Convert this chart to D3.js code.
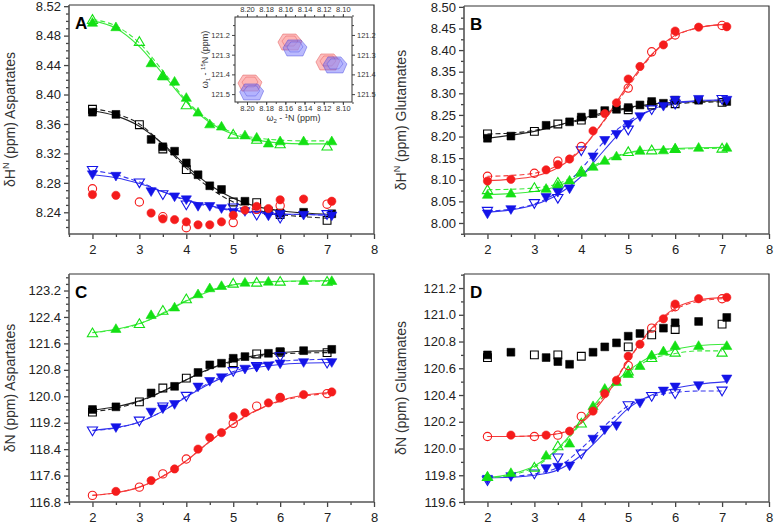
<!DOCTYPE html>
<html><head><meta charset="utf-8">
<script src="https://cdn.jsdelivr.net/npm/d3@7"></script>
<style>body{margin:0;background:#fff} text{font-family:"Liberation Sans",Arial,sans-serif}</style>
</head><body><svg id="c" width="774" height="524"></svg>
<script>
// ---------- x positions (pH) ----------
const xFilled = [2,2.5,3.25,3.5,3.75,4,4.25,4.5,4.75,5,5.25,5.5,5.75,6,6.5,7.1];
const xOpen   = [2,3,3.5,4,5,5.5,6,7];
const xFit    = [2,2.5,3,3.5,4,4.5,5,5.5,6,6.5,7.1];
const xDash   = [2,2.5,3,3.5,4,4.5,5,5.5,6,6.5,7];
const xTicks  = [2,3,4,5,6,7,8];
const xMinor  = [1.5,2.5,3.5,4.5,5.5,6.5,7.5];

// ---------- Panel A : dH Aspartates ----------
const aGreenF = [8.498,8.492,8.443,8.425,8.418,8.396,8.376,8.360,8.357,null,8.345,8.342,8.334,8.337,8.337,8.337];
const aGreenO = [8.502,8.472,8.426,8.386,8.346,8.339,8.333,8.330];
const aGreenFit  = [8.500,8.490,8.465,8.428,8.390,8.362,8.346,8.338,8.334,8.333,8.333];
const aGreenDash = [8.502,8.493,8.470,8.432,8.392,8.364,8.348,8.341,8.338,8.337,8.337];
const aBlackF = [8.376,8.373,8.339,8.329,8.323,8.307,8.291,8.276,8.271,null,8.255,null,8.242,8.239,8.240,8.238];
const aBlackO = [8.380,8.359,8.326,8.298,8.254,8.253,8.237,8.229];
const aBlackFit  = [8.378,8.371,8.357,8.333,8.303,8.277,8.259,8.248,8.242,8.239,8.237];
const aBlackDash = [8.381,8.374,8.360,8.332,8.300,8.273,8.254,8.243,8.237,8.234,8.232];
const aBlueF = [8.291,8.289,8.268,null,8.261,8.257,8.248,8.248,8.245,8.240,8.241,null,8.235,8.237,8.236,8.235];
const aBlueO = [8.297,8.280,8.264,8.250,8.246,8.236,8.232,8.237];
const aBlueFit  = [8.291,8.287,8.279,8.268,8.257,8.249,8.243,8.240,8.238,8.237,8.236];
const aBlueDash = [8.297,8.291,8.281,8.268,8.256,8.248,8.242,8.239,8.237,8.237,8.236];
const aRedF = [8.264,8.263,8.239,8.231,8.230,8.227,8.223,8.223,8.227,8.236,8.243,8.248,8.245,8.257,8.258,8.255];
const aRedO = [8.272,8.254,8.234,8.219,8.226,8.244,8.249,8.251];
const aYTicks = [8.24,8.28,8.32,8.36,8.40,8.44,8.48,8.52];
const aYMinor = [8.22,8.23,8.25,8.26,8.27,8.29,8.30,8.31,8.33,8.34,8.35,8.37,8.38,8.39,8.41,8.42,8.43,8.45,8.46,8.47,8.49,8.50,8.51];

// ---------- Panel B : dH Glutamates ----------
const bRedF = [8.097,8.101,8.123,8.135,8.148,null,8.213,8.253,8.278,8.333,8.362,null,8.412,8.444,8.453,8.454];
const bRedO = [8.108,8.115,8.143,8.177,8.312,8.396,8.435,8.457];
const bRedFit  = [8.098,8.101,8.108,8.128,8.170,8.240,8.320,8.390,8.434,8.452,8.460];
const bRedDash = [8.108,8.110,8.115,8.133,8.172,8.238,8.315,8.388,8.432,8.452,8.459];
const bBlackF = [8.196,8.201,8.226,null,8.234,8.245,8.253,8.260,8.263,8.267,8.273,8.281,8.277,8.284,8.284,8.281];
const bBlackO = [8.206,8.212,8.229,8.238,8.262,8.273,8.276,8.279];
const bBlackFit  = [8.196,8.203,8.212,8.226,8.241,8.256,8.267,8.275,8.279,8.281,8.283];
const bBlackDash = [8.206,8.208,8.214,8.226,8.238,8.253,8.265,8.272,8.276,8.279,8.280];
const bBlueF = [8.021,8.031,8.059,8.071,8.079,null,8.153,8.191,8.205,8.228,8.246,null,8.270,8.284,8.286,8.284];
const bBlueO = [8.027,8.045,8.057,8.167,8.215,8.262,8.275,8.286];
const bBlueFit  = [8.025,8.030,8.042,8.066,8.108,8.170,8.228,8.262,8.278,8.283,8.285];
const bBlueDash = [8.027,8.032,8.044,8.072,8.125,8.190,8.235,8.262,8.276,8.282,8.284];
const bGreenF = [8.066,8.069,8.080,8.088,8.099,8.117,8.131,8.145,8.155,null,8.168,null,8.169,8.173,8.175,8.175];
const bGreenO = [8.077,8.082,8.094,8.120,8.165,8.169,8.172,8.173];
const bGreenFit  = [8.066,8.068,8.073,8.085,8.112,8.143,8.162,8.169,8.172,8.174,8.175];
const bGreenDash = [8.077,8.078,8.081,8.091,8.117,8.145,8.163,8.169,8.171,8.172,8.173];
const bYTicks = [8.00,8.05,8.10,8.15,8.20,8.25,8.30,8.35,8.40,8.45,8.50];
const bYMinor = [7.975,8.025,8.075,8.125,8.175,8.225,8.275,8.325,8.375,8.425,8.475];

// ---------- Panel C : dN Aspartates ----------
const cGreenF = [null,122.05,122.47,null,122.70,null,123.10,123.28,123.35,null,123.45,null,123.48,null,123.50,123.50];
const cGreenO = [121.92,122.20,122.60,122.95,123.42,123.45,123.48,123.48];
const cGreenFit  = [121.93,122.03,122.20,122.50,122.88,123.18,123.37,123.45,123.48,123.49,123.50];
const cGreenDash = [121.92,122.02,122.19,122.52,122.90,123.20,123.38,123.45,123.47,123.48,123.48];
const cBlackF = [119.60,119.68,120.10,null,120.30,null,120.72,120.95,121.00,121.15,121.20,null,121.30,121.35,121.38,121.42];
const cBlackO = [119.52,119.83,120.25,120.55,121.02,121.28,121.33,121.32];
const cBlackFit  = [119.58,119.68,119.86,120.15,120.50,120.83,121.08,121.24,121.32,121.36,121.38];
const cBlackDash = [119.53,119.64,119.84,120.15,120.50,120.82,121.05,121.20,121.28,121.31,121.32];
const cBlueF = [null,119.05,119.52,119.62,119.75,null,120.28,120.45,120.56,null,120.82,120.88,120.92,120.98,121.02,121.02];
const cBlueO = [118.95,119.25,119.68,120.00,120.75,120.90,121.20,121.00];
const cBlueFit  = [118.97,119.05,119.22,119.55,119.98,120.38,120.70,120.87,120.96,121.00,121.02];
const cBlueDash = [118.96,119.04,119.22,119.56,120.00,120.42,120.75,120.95,121.06,121.10,121.12];
const cRedF = [null,117.12,117.45,null,117.80,null,118.40,118.75,118.90,119.38,119.50,null,119.80,119.97,120.05,120.13];
const cRedO = [117.00,117.25,117.65,118.10,119.18,119.70,119.95,120.08];
const cRedFit  = [117.00,117.08,117.25,117.58,118.05,118.63,119.17,119.58,119.87,120.03,120.12];
const cRedDash = [117.00,117.08,117.25,117.58,118.05,118.63,119.15,119.57,119.85,120.00,120.08];
const cYTicks = [116.8,117.6,118.4,119.2,120.0,120.8,121.6,122.4,123.2];
const cYMinor = [117.0,117.2,117.4,117.8,118.0,118.2,118.6,118.8,119.0,119.4,119.6,119.8,120.2,120.4,120.6,121.0,121.2,121.4,121.8,122.0,122.2,122.6,122.8,123.0,123.4,123.6];

// ---------- Panel D : dN Glutamates ----------
const dRedF = [null,120.10,120.10,null,120.13,null,120.28,120.41,120.51,120.69,120.78,null,120.97,121.08,121.12,121.13];
const dRedO = [120.09,120.09,120.10,120.24,120.62,120.90,121.06,121.12];
const dRedFit  = [120.09,120.09,120.095,120.11,120.19,120.38,120.66,120.90,121.05,121.11,121.13];
const dRedDash = [120.09,120.09,120.095,120.11,120.20,120.40,120.66,120.89,121.04,121.10,121.12];
const dBlackF = [120.70,120.72,120.68,120.65,120.63,null,120.72,120.76,120.79,120.84,120.86,null,120.90,120.94,120.95,120.98];
const dBlackO = [120.68,120.70,120.70,120.69,120.76,120.85,120.89,120.93];
const dGreenF = [119.79,119.82,119.95,null,120.04,null,120.32,120.45,120.50,120.56,120.62,120.70,120.73,120.77,120.77,120.77];
const dGreenO = [119.79,119.86,120.02,120.19,120.58,120.68,120.72,120.72];
const dGreenFit  = [119.78,119.81,119.87,120.00,120.20,120.42,120.58,120.69,120.74,120.77,120.78];
const dGreenDash = [119.78,119.80,119.86,119.99,120.19,120.40,120.57,120.67,120.71,120.73,120.73];
const dBlueF = [119.77,119.79,119.85,119.86,119.87,null,120.07,120.14,120.17,null,120.34,null,120.43,120.46,120.47,120.52];
const dBlueO = [119.76,119.81,119.93,119.96,120.32,120.39,120.41,120.43];
const dBlueFit  = [119.78,119.785,119.80,119.84,119.95,120.12,120.30,120.40,120.45,120.48,120.50];
const dBlueDash = [119.78,119.79,119.81,119.86,120.00,120.17,120.32,120.39,120.42,120.43,120.43];
const dYTicks = [119.6,119.8,120.0,120.2,120.4,120.6,120.8,121.0,121.2];
const dYMinor = [119.7,119.9,120.1,120.3,120.5,120.7,120.9,121.1,121.3];

// ---------- Inset (2D HSQC peaks) ----------
const insetRedX  = [8.1969,8.1552,8.1156];
const insetRedY  = [121.444,121.236,121.337];
const insetBlueX = [8.1951,8.1500,8.1083];
const insetBlueY = [121.489,121.266,121.352];
const insetXTicks = [8.20,8.18,8.16,8.14,8.12,8.10];
const insetYTicks = [121.2,121.3,121.4,121.5];

// ---------- styles ----------
const COL = {green:'#14e014', red:'#f51c1c', blue:'#1414e8', black:'#000'};
const LCOL = {green:'#3bea3b', red:'#f53a3a', blue:'#3434ee', black:'#222'};

const svg = d3.select('#c');

const panels = [
 {letter:'A', l:69, t:5, r:374, b:234, yd:[8.2105,8.5216], fmt:'.2f', yt:aYTicks, ym:aYMinor,
  title:['δH','N',' (ppm) Aspartates'], tx:15,
  series:[
   {c:'black', s:'square', f:aBlackF, o:aBlackO, fit:aBlackFit, dash:aBlackDash},
   {c:'blue', s:'down', f:aBlueF, o:aBlueO, fit:aBlueFit, dash:aBlueDash},
   {c:'red', s:'circle', f:aRedF, o:aRedO},
   {c:'green', s:'up', f:aGreenF, o:aGreenO, fit:aGreenFit, dash:aGreenDash}]},
 {letter:'B', l:464, t:6, r:769, b:234, yd:[7.9745,8.502], fmt:'.2f', yt:bYTicks, ym:bYMinor,
  title:['δH','N',' (ppm) Glutamates'], tx:406,
  series:[
   {c:'black', s:'square', f:bBlackF, o:bBlackO, fit:bBlackFit, dash:bBlackDash},
   {c:'green', s:'up', f:bGreenF, o:bGreenO, fit:bGreenFit, dash:bGreenDash},
   {c:'blue', s:'down', f:bBlueF, o:bBlueO, fit:bBlueFit, dash:bBlueDash},
   {c:'red', s:'circle', f:bRedF, o:bRedO, fit:bRedFit, dash:bRedDash}]},
 {letter:'C', l:69, t:274, r:374, b:502, yd:[116.8,123.7], fmt:'.1f', yt:cYTicks, ym:cYMinor,
  title:['δN (ppm) Aspartates'], tx:15,
  series:[
   {c:'black', s:'square', f:cBlackF, o:cBlackO, fit:cBlackFit, dash:cBlackDash},
   {c:'blue', s:'down', f:cBlueF, o:cBlueO, fit:cBlueFit, dash:cBlueDash},
   {c:'red', s:'circle', f:cRedF, o:cRedO, fit:cRedFit, dash:cRedDash},
   {c:'green', s:'up', f:cGreenF, o:cGreenO, fit:cGreenFit, dash:cGreenDash}]},
 {letter:'D', l:464, t:274, r:769, b:502, yd:[119.6,121.305], fmt:'.1f', yt:dYTicks, ym:dYMinor,
  title:['δN (ppm) Glutamates'], tx:406,
  series:[
   {c:'black', s:'square', f:dBlackF, o:dBlackO},
   {c:'blue', s:'down', f:dBlueF, o:dBlueO, fit:dBlueFit, dash:dBlueDash},
   {c:'green', s:'up', f:dGreenF, o:dGreenO, fit:dGreenFit, dash:dGreenDash},
   {c:'red', s:'circle', f:dRedF, o:dRedO, fit:dRedFit, dash:dRedDash}]}
];

function markerPath(shape){
  if(shape==='square') return 'M-3.9,-3.9H3.9V3.9H-3.9Z';
  if(shape==='up') return 'M0,-4.8L5.1,3.9H-5.1Z';
  if(shape==='down') return 'M0,4.8L5.1,-3.9H-5.1Z';
  return d3.symbol(d3.symbolCircle, 54)();
}

panels.forEach(p=>{
  const g = svg.append('g');
  const x = d3.scaleLinear().domain([1.5,8]).range([p.l,p.r]);
  const y = d3.scaleLinear().domain(p.yd).range([p.b,p.t]);

  g.append('path').attr('d',`M${p.l},${p.t}H${p.r}V${p.b}`).attr('fill','none').attr('stroke','#333').attr('stroke-width',1.2);

  const ym = g.append('g').attr('transform',`translate(${p.l},0)`)
    .call(d3.axisLeft(y).tickValues(p.ym).tickSize(3).tickFormat(''));
  ym.select('.domain').remove();
  const yM = g.append('g').attr('transform',`translate(${p.l},0)`)
    .call(d3.axisLeft(y).tickValues(p.yt).tickSize(5).tickPadding(3).tickFormat(d3.format(p.fmt)));
  yM.select('.domain').remove();
  const xm = g.append('g').attr('transform',`translate(0,${p.b})`)
    .call(d3.axisBottom(x).tickValues(xMinor).tickSize(3).tickFormat(''));
  xm.select('.domain').remove();
  const xM = g.append('g').attr('transform',`translate(0,${p.b})`)
    .call(d3.axisBottom(x).tickValues(xTicks).tickSize(5).tickPadding(6).tickFormat(d3.format('d')));
  xM.select('.domain').remove();
  g.selectAll('.tick line').attr('stroke','#444').attr('stroke-width',1.3);
  g.selectAll('.tick text').attr('font-size',13).attr('fill','#222').attr('font-family','"Liberation Sans",Arial,sans-serif');

  g.append('path').attr('d',`M${p.l},${p.t}V${p.b}H${p.r}`).attr('fill','none').attr('stroke','#555').attr('stroke-width',1.6);

  const cy = (p.t+p.b)/2;
  const tt = g.append('text').attr('transform',`translate(${p.tx},${cy}) rotate(-90)`)
    .attr('text-anchor','middle').attr('font-size',14).attr('fill','#333');
  if(p.title.length===3){
    tt.append('tspan').text(p.title[0]);
    tt.append('tspan').attr('dy',-6).attr('font-size',9).text(p.title[1]);
    tt.append('tspan').attr('dy',6).text(p.title[2]);
  } else tt.text(p.title[0]);

  g.append('text').attr('x',p.l+6).attr('y',p.t+24).attr('font-size',17).attr('font-weight','bold').attr('fill','#000').text(p.letter);

  const line = d3.line().defined(d=>d[1]!=null).x(d=>x(d[0])).y(d=>y(d[1])).curve(d3.curveMonotoneX);

  p.series.forEach(s=>{
    if(s.fit) g.append('path').datum(xFit.map((v,i)=>[v,s.fit[i]])).attr('d',line)
      .attr('fill','none').attr('stroke',LCOL[s.c]).attr('stroke-width',1.1);
    if(s.dash) g.append('path').datum(xDash.map((v,i)=>[v,s.dash[i]])).attr('d',line)
      .attr('fill','none').attr('stroke',LCOL[s.c]).attr('stroke-width',1.1).attr('stroke-dasharray','5,3');
  });
  p.series.forEach(s=>{
    const fd = xFilled.map((v,i)=>[v,s.f[i]]).filter(d=>d[1]!=null);
    g.selectAll(null).data(fd).join('path').attr('d',markerPath(s.s))
      .attr('transform',d=>`translate(${x(d[0])},${y(d[1])})`).attr('fill',COL[s.c]).attr('stroke',COL[s.c]).attr('stroke-width',0.6);
    const od = xOpen.map((v,i)=>[v,s.o[i]]).filter(d=>d[1]!=null);
    g.selectAll(null).data(od).join('path').attr('d',markerPath(s.s))
      .attr('transform',d=>`translate(${x(d[0])},${y(d[1])})`).attr('fill','none').attr('stroke',COL[s.c]).attr('stroke-width',1.1);
  });
});

// ---------- Inset ----------
(function(){
  const L=235,R=352,T=17,B=102;
  const g = svg.append('g');
  const x = d3.scaleLinear().domain([8.2125,8.0905]).range([L,R]);
  const y = d3.scaleLinear().domain([121.109,121.54]).range([T,B]);
  g.append('rect').attr('x',L).attr('y',T).attr('width',R-L).attr('height',B-T).attr('fill','#fff');
  const fs = 7.5;
  const xMinorI = d3.range(8.21,8.09,-0.01).map(v=>+v.toFixed(2));
  const yMinorI = [121.15,121.25,121.35,121.45];
  const addAxis = (gen, tr)=>{
    const a = g.append('g').attr('transform',tr).call(gen);
    a.select('.domain').remove();
    a.selectAll('line').attr('stroke','#444');
    a.selectAll('text').attr('font-size',fs).attr('fill','#333').attr('font-family','"Liberation Sans",Arial,sans-serif');
  };
  addAxis(d3.axisTop(x).tickValues(xMinorI).tickSize(2).tickFormat(''), `translate(0,${T})`);
  addAxis(d3.axisBottom(x).tickValues(xMinorI).tickSize(2).tickFormat(''), `translate(0,${B})`);
  addAxis(d3.axisTop(x).tickValues(insetXTicks).tickSize(3).tickPadding(2).tickFormat(d3.format('.2f')), `translate(0,${T})`);
  addAxis(d3.axisBottom(x).tickValues(insetXTicks).tickSize(3).tickPadding(1).tickFormat(d3.format('.2f')), `translate(0,${B})`);
  addAxis(d3.axisLeft(y).tickValues(yMinorI).tickSize(2).tickFormat(''), `translate(${L},0)`);
  addAxis(d3.axisRight(y).tickValues(yMinorI).tickSize(2).tickFormat(''), `translate(${R},0)`);
  addAxis(d3.axisLeft(y).tickValues(insetYTicks).tickSize(3).tickPadding(2).tickFormat(d3.format('.1f')), `translate(${L},0)`);
  addAxis(d3.axisRight(y).tickValues(insetYTicks).tickSize(3).tickPadding(2).tickFormat(d3.format('.1f')), `translate(${R},0)`);
  g.append('rect').attr('x',L).attr('y',T).attr('width',R-L).attr('height',B-T).attr('fill','none').attr('stroke','#333').attr('stroke-width',1);

  const outer = [[-12,0],[-7,-8],[6,-8],[12,-1],[8,8],[-8,8]];
  const inner = [[-8,-1],[-4,-6],[5,-6],[8,-1],[4,4],[-5,4]];
  const pts = (cx,cy,arr)=>arr.map(d=>[cx+d[0],cy+d[1]].join(',')).join(' ');
  const drawPeak = (cx,cy,fillO,fillI,stroke)=>{
    g.append('polygon').attr('points',pts(cx,cy,outer)).attr('fill',fillO).attr('stroke',stroke).attr('stroke-width',0.6);
    g.append('polygon').attr('points',pts(cx,cy,inner)).attr('fill',fillI).attr('stroke',stroke).attr('stroke-width',0.5);
  };
  insetRedX.forEach((v,i)=>drawPeak(x(v),y(insetRedY[i]),'rgba(250,110,110,0.45)','rgba(255,170,170,0.45)','rgba(220,60,60,0.7)'));
  insetBlueX.forEach((v,i)=>drawPeak(x(v),y(insetBlueY[i]),'rgba(90,90,250,0.42)','rgba(170,170,255,0.4)','rgba(60,60,220,0.7)'));

  const t1 = g.append('text').attr('x',(L+R)/2).attr('y',B+19).attr('text-anchor','middle').attr('font-size',9).attr('fill','#333');
  t1.append('tspan').text('ω');
  t1.append('tspan').attr('dy',2).attr('font-size',6).text('2');
  t1.append('tspan').attr('dy',-2).text(' - ');
  t1.append('tspan').attr('dy',-3).attr('font-size',6).text('1');
  t1.append('tspan').attr('dy',3).text('N (ppm)');
  const t2 = g.append('text').attr('transform',`translate(${L-27},${(T+B)/2}) rotate(-90)`).attr('text-anchor','middle').attr('font-size',9).attr('fill','#333');
  t2.append('tspan').text('ω');
  t2.append('tspan').attr('dy',2).attr('font-size',6).text('1');
  t2.append('tspan').attr('dy',-2).text(' - ');
  t2.append('tspan').attr('dy',-3).attr('font-size',6).text('15');
  t2.append('tspan').attr('dy',3).text('N (ppm)');
})();
</script></body></html>
